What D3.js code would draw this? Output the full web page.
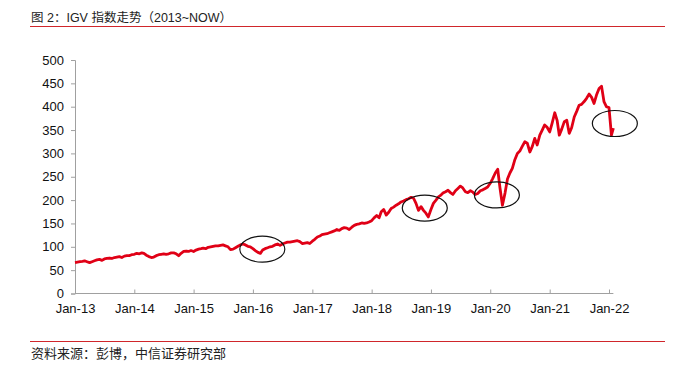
<!DOCTYPE html>
<html><head><meta charset="utf-8">
<script src="https://cdn.jsdelivr.net/npm/d3@7"></script>
<style>body{margin:0;background:#fff}svg{display:block}</style>
</head><body><svg id="c" width="674" height="371"></svg>
<script>
const titleText = "图 2：IGV 指数走势（2013~NOW）";
const sourceText = "资料来源：彭博，中信证券研究部";
const yTickValues = [0, 50, 100, 150, 200, 250, 300, 350, 400, 450, 500];
const xTickYears = [2013, 2014, 2015, 2016, 2017, 2018, 2019, 2020, 2021, 2022];

// IGV index, two readings per month (1st and 16th), Jan 2013 - Jan 2022
const v2013 = [66,67,68,69,70,68,66,68,70,72,73,71,74,75,76,75,77,78,79,77,80,81,81,83];
const v2014 = [84,86,85,87,86,82,79,77,78,81,83,84,85,84,85,87,87,85,81,86,90,91,90,92];
const v2015 = [90,93,95,96,97,96,99,100,101,102,102,103,104,102,100,94,95,98,101,104,106,104,101,100];
const v2016 = [96,92,88,86,93,96,98,100,101,104,106,103,106,108,110,110,111,112,113,111,107,108,109,107];
const v2017 = [112,116,121,123,126,127,128,130,132,134,137,135,139,141,140,137,142,146,148,149,151,150,151,153];
const v2018 = [156,162,167,162,175,180,168,174,182,185,189,192,196,198,201,203,206,204,193,178,186,178,172,164];
const v2019 = [180,193,200,207,210,215,218,221,216,212,220,225,230,226,218,216,220,217,212,214,220,222,225,228];
const v2020 = [236,246,258,266,226,189,215,245,258,268,287,300,305,315,325,322,303,315,332,318,339,350,361,356];
const v2021 = [346,365,387,370,339,352,368,371,343,355,378,390,403,405,411,418,427,420,407,425,439,444,411,400];
const v2022 = [398,339];
const lastDate = "2022-01-28";
const lastValue = 354;

// annotation ellipses (centre in data terms)
const annotations = [
  {date: "2016-02-28", value: 95},
  {date: "2018-11-24", value: 183},
  {date: "2020-02-11", value: 211},
  {date: "2022-02-06", value: 364}
];

const allValues = [].concat(v2013, v2014, v2015, v2016, v2017, v2018, v2019, v2020, v2021, v2022);
const parse = d3.timeParse("%Y-%m-%d");
const data = allValues.map((v, i) => {
  const m = Math.floor(i / 2);
  return {date: new Date(2013, m, (i % 2) ? 16 : 1), value: v};
});
data.push({date: parse(lastDate), value: lastValue});

const svg = d3.select("#c");
const font = "'Liberation Sans', Arial, 'Noto Sans CJK SC', sans-serif";

const x = d3.scaleTime().domain([new Date(2013, 0, 1), new Date(2022, 0, 1)]).range([75, 609]);
const y = d3.scaleLinear().domain([0, 500]).range([293.5, 60]);

// title & header rule
svg.append("text").attr("x", 31).attr("y", 22).attr("font-family", font)
  .attr("font-size", 12.5).attr("fill", "#222").text(titleText);
svg.append("line").attr("x1", 30).attr("x2", 665).attr("y1", 26.5).attr("y2", 26.5)
  .attr("stroke", "#d0262b").attr("stroke-width", 1);

// footer
svg.append("line").attr("x1", 30).attr("x2", 665).attr("y1", 341.5).attr("y2", 341.5)
  .attr("stroke", "#d0262b").attr("stroke-width", 1);
svg.append("text").attr("x", 31).attr("y", 358).attr("font-family", font)
  .attr("font-size", 13).attr("fill", "#222").text(sourceText);

// y axis
const yAxis = svg.append("g").attr("transform", "translate(75,0)")
  .call(d3.axisLeft(y).tickValues(yTickValues).tickSize(4).tickPadding(7));
yAxis.select(".domain").attr("stroke", "#a0a0a0");
yAxis.selectAll(".tick line").attr("stroke", "#a0a0a0");
yAxis.selectAll("text").attr("font-family", font).attr("font-size", 13).attr("fill", "#111");

// x axis
const xAxis = svg.append("g").attr("transform", `translate(0,${y(0)})`)
  .call(d3.axisBottom(x).tickValues(xTickYears.map(yr => new Date(yr, 0, 1)))
    .tickFormat(d3.timeFormat("%b-%y")).tickSizeInner(-4).tickSizeOuter(0).tickPadding(10));
xAxis.select(".domain").remove();
xAxis.insert("line", ":first-child").attr("x1", x(new Date(2013, 0, 1))).attr("x2", x(parse(lastDate)))
  .attr("stroke", "#a0a0a0");
xAxis.selectAll(".tick line").attr("stroke", "#a0a0a0");
xAxis.selectAll("text").attr("font-family", font).attr("font-size", 13).attr("fill", "#111");

// line
svg.append("path").datum(data)
  .attr("fill", "none").attr("stroke", "#e00016").attr("stroke-width", 2.8)
  .attr("stroke-linejoin", "round")
  .attr("d", d3.line().x(d => x(d.date)).y(d => y(d.value)));

// ellipses
svg.selectAll("ellipse.ann").data(annotations).join("ellipse")
  .attr("class", "ann")
  .attr("cx", d => x(parse(d.date))).attr("cy", d => y(d.value))
  .attr("rx", 22.5).attr("ry", 13)
  .attr("fill", "none").attr("stroke", "#111").attr("stroke-width", 1.2);
</script>
</body></html>
